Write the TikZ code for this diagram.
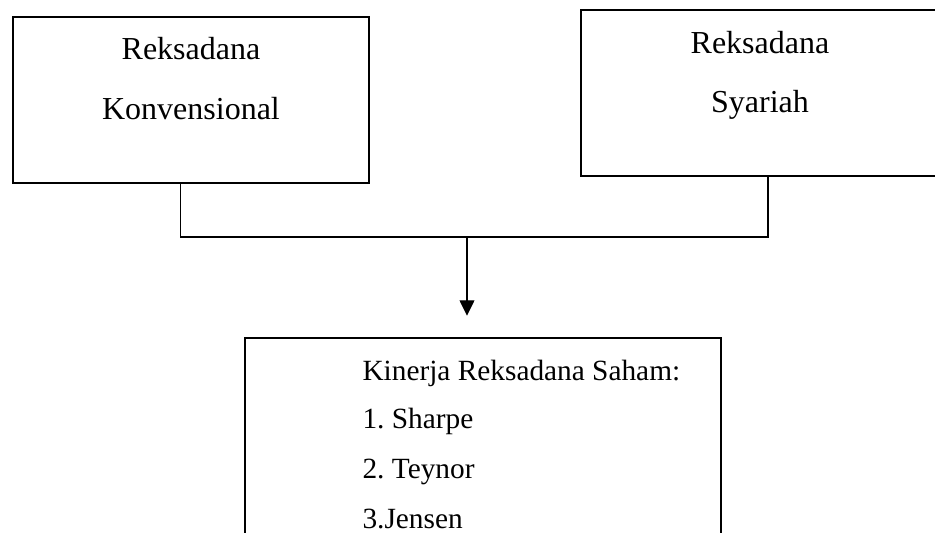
\documentclass[tikz,border=0pt]{standalone}
\usepackage{fontspec}
\setmainfont{Liberation Serif}
\usetikzlibrary{arrows.meta,positioning}

\tikzset{
  box/.style={draw, line width=0.9pt, inner sep=0pt},
  link/.style={line width=0.4pt},
  flow/.style={link, -{Triangle[length=5.8pt,width=5.6pt]}},
  toptxt/.style={anchor=base, inner sep=0pt, font=\fontsize{12}{14}\selectfont},
  listtxt/.style={anchor=base west, inner sep=0pt, font=\fontsize{11}{13}\selectfont\frenchspacing}
}

\begin{document}
\begin{tikzpicture}[x=0.375pt, y=-0.375pt]

\clip (0,0) rectangle (935,533);

% the three boxes
\node[box, minimum width=133.5pt, minimum height=62.25pt] (konv) at (191,100) {};
\node[box, minimum width=134.25pt, minimum height=62.25pt] (syar) at (760,93) {};
\node[box, minimum width=178.5pt, minimum height=83.25pt] (kin) at (483,449) {};

\node[toptxt] (konv1) at (191,59) {Reksadana};
\node[toptxt] (konv2) at (191,119) {Konvensional};

\node[toptxt] (syar1) at (760,53) {Reksadana};
\node[toptxt] (syar2) at (760,112) {Syariah};

\node[listtxt] (kin0) at (362,380) {Kinerja Reksadana Saham:};
\node[listtxt] (kin1) at (362,428) {1. Sharpe};
\node[listtxt] (kin2) at (362,478) {2. Teynor};
\node[listtxt] (kin3) at (362,528) {3.Jensen};

% connectors
\coordinate (join) at (467,237);
\draw[link] ([xshift=-4.1pt]konv.south) |- (join) -| ([xshift=3pt]syar.south);
\draw[flow, shorten >=7.9pt] (join) -- (join |- kin.north);

\end{tikzpicture}
\end{document}
